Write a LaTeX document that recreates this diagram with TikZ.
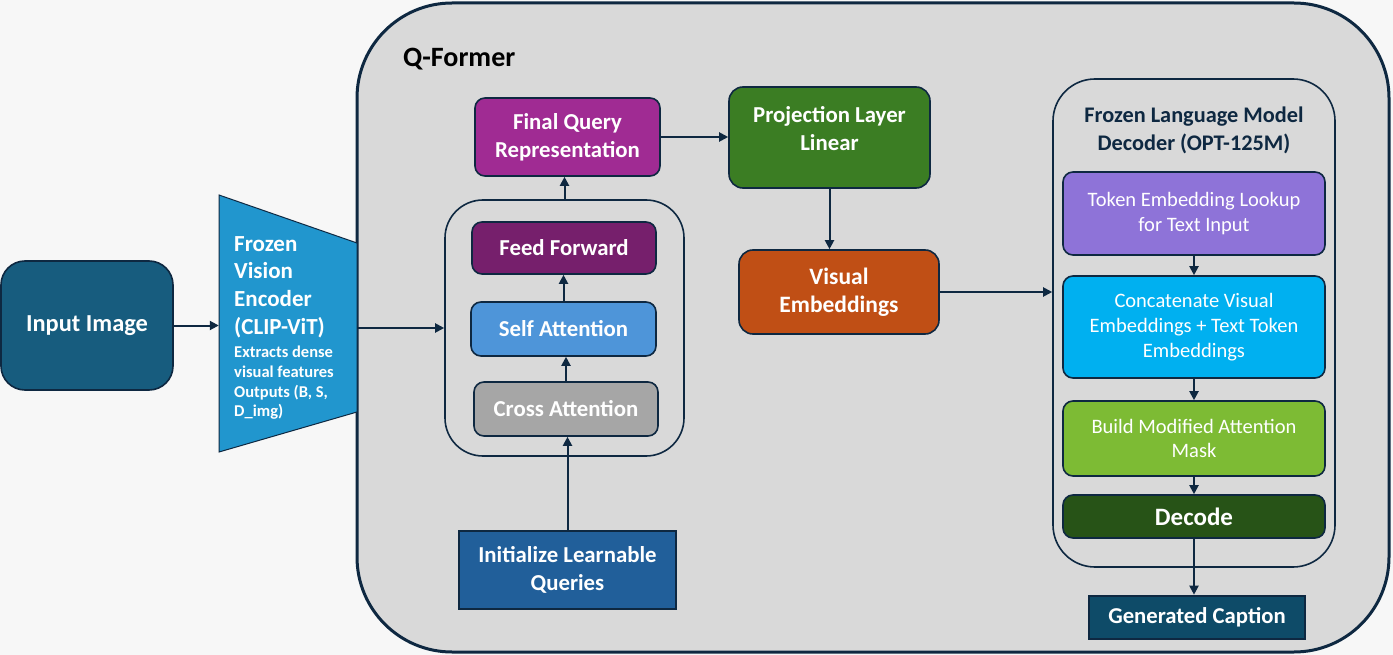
\documentclass[tikz,border=0pt]{standalone}
\usepackage{fontspec}
\setmainfont{Carlito}
\usetikzlibrary{arrows.meta}
\definecolor{bgc}{HTML}{F7F7F7}
\definecolor{qfill}{HTML}{D9D9D9}
\definecolor{dk}{HTML}{0E2841}
\definecolor{cimg}{HTML}{175C7E}
\definecolor{cenc}{HTML}{2196CE}
\definecolor{cfin}{HTML}{A02B93}
\definecolor{cff}{HTML}{761F6C}
\definecolor{cself}{HTML}{4E95D9}
\definecolor{ccross}{HTML}{A6A6A6}
\definecolor{cinit}{HTML}{215F9A}
\definecolor{cproj}{HTML}{3B7D23}
\definecolor{cvis}{HTML}{C04F15}
\definecolor{ctok}{HTML}{8E73D8}
\definecolor{ccat}{HTML}{00B0F0}
\definecolor{cbuild}{HTML}{7DBB34}
\definecolor{cdec}{HTML}{275317}
\definecolor{ccap}{HTML}{0E4B68}
\tikzset{
  box/.style={draw=dk, line width=1.6pt, rounded corners=10pt, text=white, align=center, inner sep=0pt},
  bb/.style={box, font=\bfseries\fontsize{22.8}{28}\selectfont},
  rb/.style={box, font=\fontsize{20.5}{24.8}\selectfont},
  sq/.style={draw=dk, line width=2.6pt, text=white, align=center, inner sep=0pt, font=\bfseries\fontsize{22.8}{28}\selectfont},
  arr/.style={draw=dk, line width=2pt, -{Triangle[length=9pt,width=9pt]}},
}
\begin{document}
\begin{tikzpicture}[x=1pt,y=-1pt]
\fill[bgc] (0,0) rectangle (1393,655);
\useasboundingbox (0,0) rectangle (1393,655);
% Q-Former container
\node[draw=dk, line width=3pt, fill=qfill, rounded corners=95pt, minimum width=1032pt, minimum height=649pt, inner sep=0pt] (qf) at (873,327.5) {};
\node[anchor=west, font=\bfseries\fontsize{28}{30}\selectfont, text=black, inner sep=0pt] (qft) at (403,59) {Q-Former};
% Input image
\node[box, fill=cimg, rounded corners=24pt, minimum width=172pt, minimum height=129pt, font=\bfseries\fontsize{24.4}{28}\selectfont] (img) at (87,325.5) {Input Image};
% Encoder trapezoid
\node[minimum width=138pt, minimum height=257pt, inner sep=0pt] (enc) at (288,323.5) {};
\draw[draw=dk, line width=1pt, fill=cenc] (219,195) -- (357,243) -- (357,412) -- (219,452) -- cycle;
\node[anchor=west, text=white, align=left, inner sep=0pt, font=\bfseries\fontsize{23}{27.7}\selectfont] (enct) at (234,287) {Frozen\\Vision\\Encoder\\(CLIP-ViT)};
\node[anchor=west, text=white, align=left, inner sep=0pt, font=\bfseries\fontsize{16.5}{19.7}\selectfont] (encs) at (234,383) {Extracts dense\\visual features\\Outputs (B, S,\\D\_img)};
% Q-Former inner stack
\node[draw=dk, line width=1.6pt, rounded corners=38pt, minimum width=239pt, minimum height=256pt, inner sep=0pt] (stack) at (564.5,328) {};
\node[bb, fill=cff, minimum width=184pt, minimum height=52pt] (ff) at (564,248) {Feed Forward};
\node[bb, fill=cself, minimum width=185pt, minimum height=54pt] (sa) at (563.5,329) {Self Attention};
\node[bb, fill=ccross, minimum width=184pt, minimum height=54pt] (ca) at (566,409) {Cross Attention};
\node[bb, fill=cfin, minimum width=185pt, minimum height=78pt] (fq) at (567.5,137) {Final Query\\Representation};
\node[sq, fill=cinit, minimum width=217pt, minimum height=78pt] (init) at (567.5,570) {Initialize Learnable\\Queries};
% projection and visual
\node[box, fill=cproj, rounded corners=14pt, minimum width=201pt, minimum height=101pt] (proj) at (829.5,137.5) {};
\node[text=white, align=center, font=\bfseries\fontsize{22.8}{28}\selectfont, inner sep=0pt] (projt) at (829.5,129) {Projection Layer\\Linear};
\node[bb, fill=cvis, rounded corners=14pt, minimum width=200pt, minimum height=84pt, font=\bfseries\fontsize{23.5}{28}\selectfont] (vis) at (839,292) {Visual\\Embeddings};
% language model
\node[draw=dk, line width=1.6pt, rounded corners=42pt, minimum width=282pt, minimum height=488pt, inner sep=0pt] (lm) at (1194,323) {};
\node[text=dk, align=center, font=\bfseries\fontsize{22.3}{28}\selectfont, inner sep=0pt] (lmt) at (1194,130) {Frozen Language Model\\Decoder (OPT-125M)};
\node[rb, fill=ctok, minimum width=262pt, minimum height=83pt] (tok) at (1194,213.5) {Token Embedding Lookup\\for Text Input};
\node[rb, fill=ccat, minimum width=262pt, minimum height=102pt] (cat) at (1194,327) {Concatenate Visual\\Embeddings + Text Token\\Embeddings};
\node[rb, fill=cbuild, minimum width=262pt, minimum height=75pt] (bld) at (1194,438.5) {Build Modified Attention\\Mask};
\node[bb, fill=cdec, minimum width=262pt, minimum height=43pt, font=\bfseries\fontsize{25}{28}\selectfont] (dec) at (1194,516.5) {Decode};
\node[sq, fill=ccap, minimum width=216pt, minimum height=43pt, font=\bfseries\fontsize{22.7}{24}\selectfont] (cap) at (1197,617.5) {Generated Caption};
% arrows
\draw[arr] (img.east) -- (img.east -| enc.west);
\draw[arr] (enc.east |- stack.west) -- (stack.west);
\draw[arr] (init.north) -- (init.north |- ca.south);
\draw[arr] (ca.north) -- (ca.north |- sa.south);
\draw[arr] (sa.north) -- (sa.north |- ff.south);
\draw[arr] (stack.north) -- (stack.north |- fq.south);
\draw[arr] (fq.east) -- (fq.east -| proj.west);
\draw[arr] (proj.south) -- (proj.south |- vis.north);
\draw[arr] (vis.east) -- (vis.east -| lm.west);
\draw[arr] (tok.south) -- (cat.north);
\draw[arr] (cat.south) -- (bld.north);
\draw[arr] (bld.south) -- (dec.north);
\draw[arr] (dec.south) -- (dec.south |- cap.north);
\end{tikzpicture}
\end{document}
